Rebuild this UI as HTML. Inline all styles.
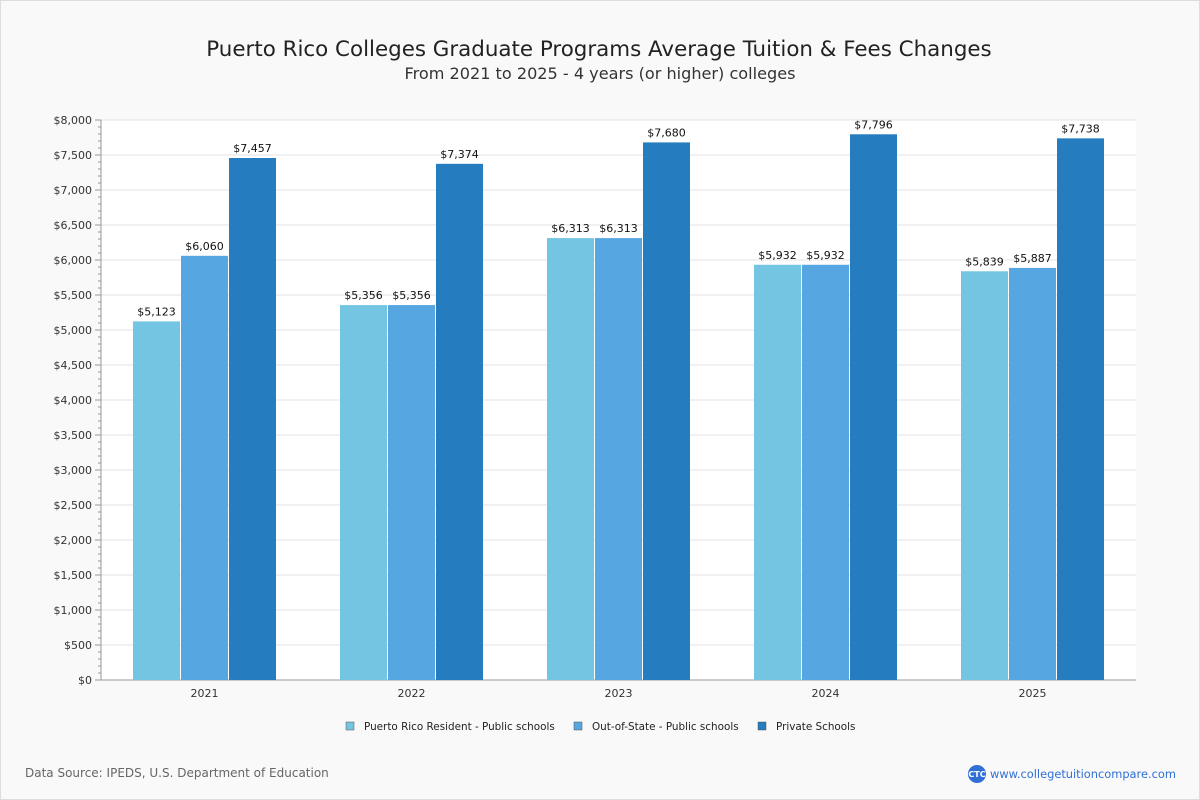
<!DOCTYPE html>
<html><head><meta charset="utf-8"><style>
body{margin:0;width:1200px;height:800px;background:#f9f9f9;font-family:"DejaVu Sans","Liberation Sans",sans-serif;overflow:hidden}
#wrap{position:absolute;left:0;top:0;width:1200px;height:800px;box-sizing:border-box;border:1px solid #ddd;background:#f9f9f9}
#chart{position:absolute;left:0;top:-1px}
</style></head><body>
<div id="wrap">
<svg id="chart" width="1200" height="800" xmlns="http://www.w3.org/2000/svg">
<text x="598" y="56" text-anchor="middle" font-size="21.4" fill="#222">Puerto Rico Colleges Graduate Programs Average Tuition &amp; Fees Changes</text>
<text x="599" y="79" text-anchor="middle" font-size="16.1" fill="#333">From 2021 to 2025 - 4 years (or higher) colleges</text>
<rect x="100" y="120" width="1035" height="560" fill="#fff"/>
<g id="grid"></g><g id="axes"></g><g id="bars"></g>
<g id="legend"></g>
<text x="24" y="777" font-size="12" fill="#666">Data Source: IPEDS, U.S. Department of Education</text>
<g>
<circle cx="976" cy="774" r="9" fill="#2f6fd6"/>
<text x="976" y="777" text-anchor="middle" font-size="8" fill="#fff" font-weight="bold">CTC</text>
<text x="989" y="778" font-size="11.4" fill="#2f6fd6">www.collegetuitioncompare.com</text>
</g>
</svg></div>
<script>
const categories=["2021","2022","2023","2024","2025"];
const seriesNames=["Puerto Rico Resident - Public schools","Out-of-State - Public schools","Private Schools"];
const residentValues=[5123,5356,6313,5932,5839];
const outStateValues=[6060,5356,6313,5932,5887];
const privateValues=[7457,7374,7680,7796,7738];
const yTicks=[0,500,1000,1500,2000,2500,3000,3500,4000,4500,5000,5500,6000,6500,7000,7500,8000];
const colors=["#74c5e2","#56a6e2","#257dbf"];
const NS="http://www.w3.org/2000/svg";
const X0=100,X1=1135,Y0=680,Y1=120,YMAX=8000;
const y=v=>Y0-(v/YMAX)*(Y0-Y1);
const gw=(X1-X0)/categories.length;
const gx=i=>X0+gw*(i+0.5);
function mk(t,a,p){const e=document.createElementNS(NS,t);for(const k in a)e.setAttribute(k,a[k]);p.appendChild(e);return e;}
const grid=document.getElementById('grid'),axes=document.getElementById('axes'),bars=document.getElementById('bars'),leg=document.getElementById('legend');
yTicks.forEach(t=>{
 if(t>0){const l=mk('line',{x1:X0,x2:X1,y1:y(t),y2:y(t),stroke:'#e3e3e3'},grid);
 
 }
 const tx=mk('text',{x:91,y:y(t)+4,'text-anchor':'end','font-size':11,fill:'#333'},axes);tx.textContent='$'+t.toLocaleString('en-US');
 
 
 mk('line',{x1:94,x2:100,y1:y(t),y2:y(t),stroke:'#999'},axes);
});
for(let v=100;v<YMAX;v+=100){if(v%500)mk('line',{x1:97,x2:100,y1:y(v),y2:y(v),stroke:'#999'},axes);}
mk('line',{x1:X0,x2:X0,y1:Y1,y2:Y0,stroke:'#999'},axes);
mk('line',{x1:X0,x2:X1,y1:Y0,y2:Y0,stroke:'#999'},axes);
const series=[residentValues,outStateValues,privateValues];
const bw=47;
categories.forEach((c,i)=>{
 const cx=gx(i);
 const tl=mk('text',{x:cx,y:697,'text-anchor':'middle','font-size':11,fill:'#333'},axes);tl.textContent=c;
 
 
 series.forEach((s,j)=>{
  const bx=cx-bw*1.5-1+j*(bw+1);
  const r=mk('rect',{x:bx,y:y(s[i]),width:bw,height:Y0-y(s[i]),fill:colors[j]},bars);
  
  
  const lb=mk('text',{x:bx+bw/2,y:y(s[i])-6,'text-anchor':'middle','font-size':11,fill:'#111'},bars);
  lb.textContent='$'+s[i].toLocaleString('en-US');
  
  
 });
});
const lx=[345,573,757];
seriesNames.forEach((n,j)=>{
 const g=mk('g',{},leg);
 
 
 mk('rect',{x:lx[j],y:722,width:8,height:8,fill:colors[j],stroke:'#555','stroke-width':0.5},g);
 const t=mk('text',{x:lx[j]+18,y:730,'font-size':10.4,fill:'#222'},g);t.textContent=n;
});
</script>
</body></html>
